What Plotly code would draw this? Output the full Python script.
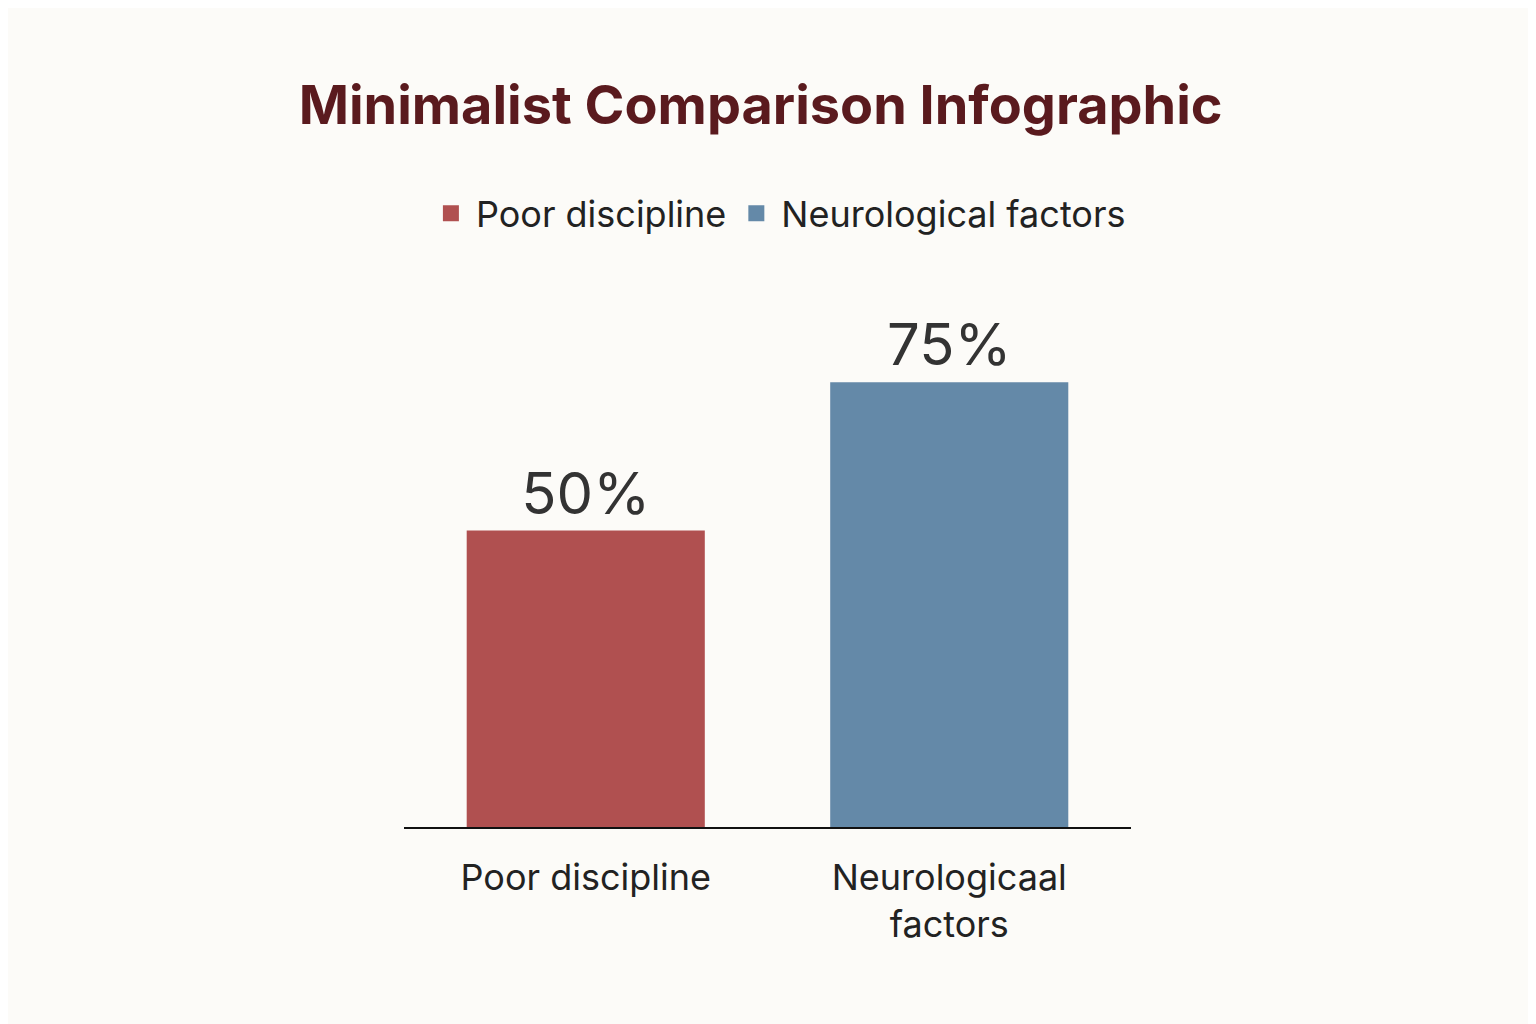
import plotly.graph_objects as go

categories = ["Poor discipline", "Neurologicaal<br>factors"]
series_names = ["Poor discipline", "Neurological factors"]
values = [50, 75]
labels = ["50%", "75%"]
colors = ["#b05050", "#6489a8"]

fig = go.Figure()
for i in range(2):
    fig.add_trace(go.Bar(
        x=[categories[i]], y=[values[i]], name=series_names[i], showlegend=False,
        marker=dict(color=colors[i], line=dict(width=0)),
        text=[labels[i]], textposition="outside",
        textfont=dict(size=58, color="#333333", family="Inter, Noto Sans"),
        cliponaxis=False,
    ))
for i in range(2):
    fig.add_trace(go.Scatter(
        x=[None], y=[None], mode="markers", name=series_names[i],
        marker=dict(symbol="square", size=36, color=colors[i]),
    ))

fig.update_layout(
    width=1536, height=1024,
    paper_bgcolor="#fcfbf8", plot_bgcolor="#fcfbf8",
    margin=dict(l=396, r=413, t=226, b=205),
    barmode="overlay", bargap=0.345,
    title=dict(text="<b>Minimalist Comparison Infographic</b>", x=0.49, xanchor="center",
               y=0.905, yanchor="middle",
               font=dict(size=54, color="#5a1a1e", family="Inter, Noto Sans")),
    legend=dict(orientation="h", x=0.515, xanchor="center", y=1.035, yanchor="middle",
                font=dict(size=36, color="#222222", family="Inter, Noto Sans"),
                itemwidth=40, bgcolor="rgba(0,0,0,0)"),
    xaxis=dict(showline=True, linecolor="#111111", linewidth=2, ticks="",
               ticklabelstandoff=18,
               tickfont=dict(size=36, color="#222222", family="Inter, Noto Sans"),
               categoryorder="array", categoryarray=categories),
    yaxis=dict(range=[0, 100], visible=False, showgrid=False, zeroline=False),
)
fig.write_html("out.html")
